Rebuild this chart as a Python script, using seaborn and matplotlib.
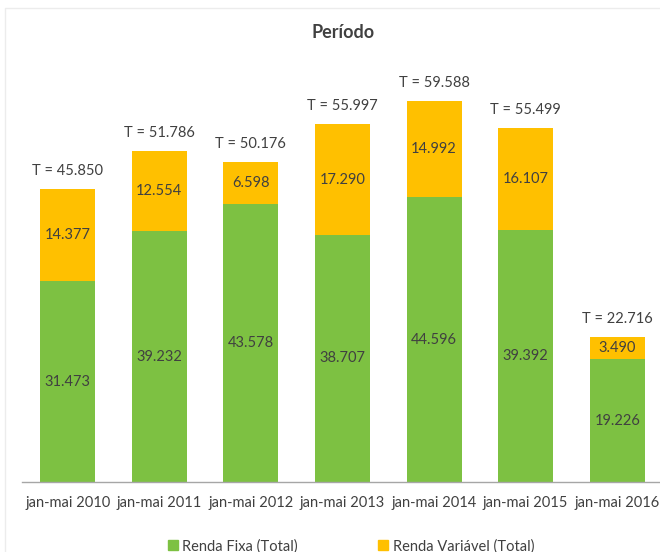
import pandas as pd
import matplotlib
matplotlib.use("Agg")
import matplotlib.pyplot as plt
from matplotlib.patches import Patch, Rectangle
import seaborn as sns

periodos = ["jan-mai 2010", "jan-mai 2011", "jan-mai 2012", "jan-mai 2013",
            "jan-mai 2014", "jan-mai 2015", "jan-mai 2016"]
renda_fixa = [31473, 39232, 43578, 38707, 44596, 39392, 19226]
renda_variavel = [14377, 12554, 6598, 17290, 14992, 16107, 3490]

GREEN = "#7DC142"
YELLOW = "#FFC000"
TXT = "#404040"

df = pd.DataFrame({"periodo": periodos, "fixa": renda_fixa, "variavel": renda_variavel})
df["total"] = df["fixa"] + df["variavel"]

def fmt(v):
    return f"{v:,}".replace(",", ".")

sns.set_style("white")
plt.rcParams["font.family"] = ["Lato", "DejaVu Sans"]

fig = plt.figure(figsize=(6.6, 5.52), dpi=100)
W, H = 660, 552
ax = fig.add_axes([22 / W, (H - 482) / H, 641 / W, 447 / H])

# stacked bars: total in yellow, fixed income drawn over it in green
sns.barplot(data=df, x="periodo", y="total", color=YELLOW, width=0.6,
            saturation=1, linewidth=0, ax=ax)
sns.barplot(data=df, x="periodo", y="fixa", color=GREEN, width=0.6,
            saturation=1, linewidth=0, ax=ax)

ax.set_xlim(-0.5, len(periodos) - 0.5)
ax.set_ylim(0, 70000)
ax.set_xlabel("")
ax.set_ylabel("")
ax.set_yticks([])
for s in ["top", "right", "left"]:
    ax.spines[s].set_visible(False)
ax.spines["bottom"].set_color("#a6a6a6")
ax.spines["bottom"].set_linewidth(1)

ax.set_xticks(range(len(periodos)))
ax.set_xticklabels(periodos, fontsize=10.5, color=TXT)
ax.tick_params(axis="x", which="major", length=0, pad=10)
ax.set_xticks([i - 0.5 for i in range(len(periodos) + 1)], minor=True)
ax.tick_params(axis="x", which="minor", length=5, color="#a6a6a6", width=1)

for i, row in df.iterrows():
    ax.text(i, row["fixa"] / 2, fmt(row["fixa"]), ha="center", va="center",
            fontsize=10.5, color=TXT)
    ax.text(i, row["fixa"] + row["variavel"] / 2, fmt(row["variavel"]),
            ha="center", va="center", fontsize=10.5, color=TXT)
    ax.annotate(f"T = {fmt(row['total'])}", (i, row["total"]),
                xytext=(0, 13), textcoords="offset points",
                ha="center", va="center", fontsize=10.5, color=TXT)

fig.text(343 / W, 1 - 33 / H, "Período", ha="center", va="center",
         fontsize=13, fontweight="bold", color=TXT)

fig.add_artist(Rectangle((5 / W, -0.1), 1.2, 1 - 8 / H + 0.1,
                         transform=fig.transFigure, fill=False,
                         edgecolor="#ececec", linewidth=1))

handles = [Patch(color=GREEN, label="Renda Fixa (Total)"),
           Patch(color=YELLOW, label="Renda Variável (Total)")]
fig.legend(handles=handles, loc="upper center", ncol=2,
           bbox_to_anchor=(351 / W, 1 - 526 / H), frameon=False,
           fontsize=10.5, labelcolor=TXT, handlelength=0.7, handleheight=0.7,
           handletextpad=0.3, columnspacing=5.5)

fig.savefig("out.png", dpi=100)
